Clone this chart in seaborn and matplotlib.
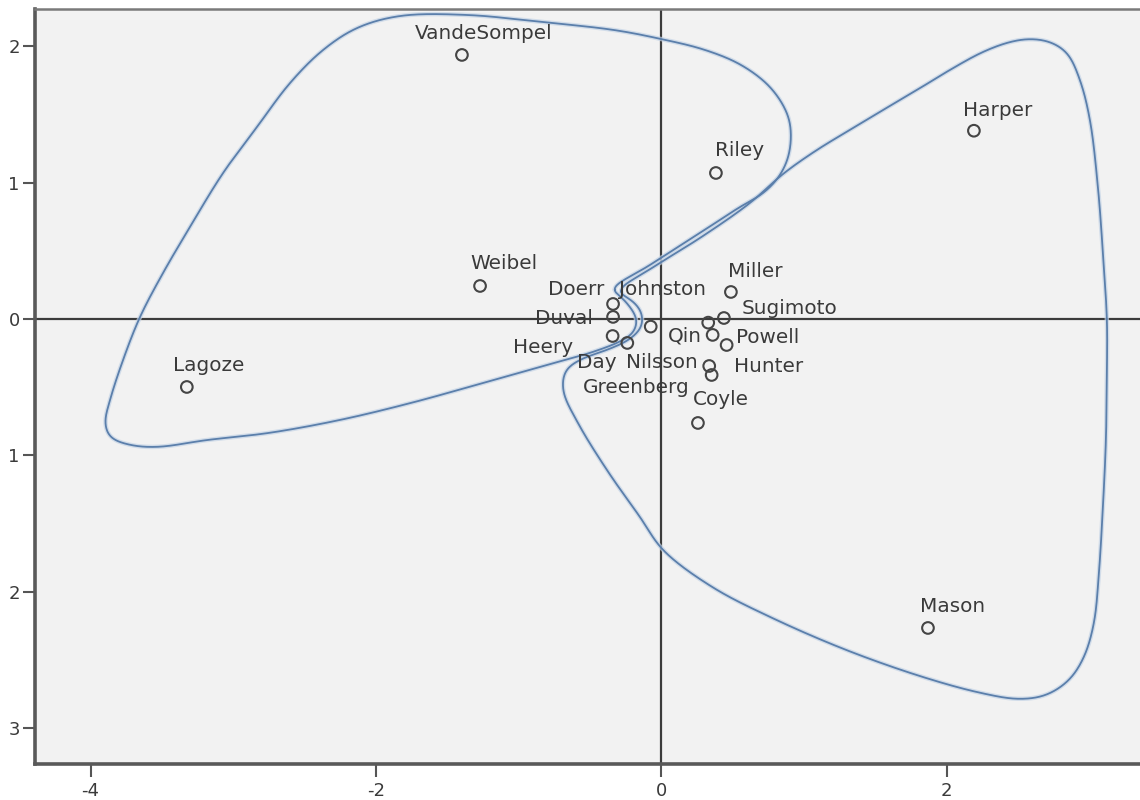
import numpy as np
import pandas as pd
import matplotlib
matplotlib.use("Agg")
import matplotlib.pyplot as plt
import seaborn as sns

# Two-dimensional positions of each author
names = ["VandeSompel", "Harper", "Riley", "Weibel", "Lagoze", "Mason", "Coyle",
         "Miller", "Sugimoto", "Doerr", "Duval", "Heery", "Day", "Johnston",
         "Qin", "Nilsson", "Powell", "Hunter", "Greenberg"]
dim1 = [-1.397, 2.191, 0.383, -1.270, -3.325, 1.869, 0.257,
        0.488, 0.439, -0.338, -0.338, -0.341, -0.238, -0.074,
        0.329, 0.360, 0.458, 0.336, 0.353]
dim2 = [1.937, 1.381, 1.071, 0.242, -0.499, -2.267, -0.763,
        0.198, 0.007, 0.110, 0.015, -0.125, -0.176, -0.056,
        -0.027, -0.117, -0.191, -0.345, -0.411]

# Outline of the left-hand group (closed)
left_group_x = [-0.345, -0.079, 0.271, 0.552, 0.706, 0.818, 0.888, 0.909, 0.881,
                0.762, 0.559, 0.306, -0.002, -0.331, -0.843, -1.355, -1.831,
                -2.132, -2.371, -2.602, -2.833, -3.071, -3.303, -3.492, -3.653,
                -3.772, -3.863, -3.898, -3.863, -3.723, -3.534, -3.183, -2.749,
                -2.252, -1.754, -1.250, -0.752, -0.500, -0.297, -0.198, -0.170,
                -0.219, -0.289]
left_group_y = [0.213, 0.396, 0.631, 0.822, 0.917, 1.034, 1.181, 1.365, 1.511,
                1.702, 1.864, 1.974, 2.054, 2.120, 2.179, 2.230, 2.223,
                2.135, 1.973, 1.731, 1.409, 1.071, 0.675, 0.337, 0.015,
                -0.301, -0.594, -0.763, -0.866, -0.924, -0.939, -0.888, -0.836,
                -0.741, -0.616, -0.470, -0.323, -0.249, -0.169, -0.103, -0.007,
                0.088, 0.169]

# Outline of the right-hand group (closed)
right_group_x = [-0.303, -0.065, 0.271, 0.622, 0.853, 1.091, 1.322, 1.554, 1.792,
                 2.023, 2.254, 2.443, 2.583, 2.724, 2.843, 2.934, 3.004, 3.060,
                 3.095, 3.123, 3.123, 3.116, 3.095, 3.067, 3.032, 2.962, 2.857,
                 2.696, 2.507, 2.241, 1.834, 1.295, 0.762, 0.356, 0.012, -0.149,
                 -0.367, -0.584, -0.689, -0.668, -0.556, -0.381, -0.219, -0.135,
                 -0.142, -0.219]
right_group_y = [0.198, 0.374, 0.594, 0.851, 1.064, 1.240, 1.387, 1.533, 1.680,
                 1.827, 1.959, 2.032, 2.054, 2.032, 1.952, 1.753, 1.460, 0.968,
                 0.484, -0.007, -0.396, -0.888, -1.379, -1.864, -2.230, -2.480,
                 -2.649, -2.759, -2.788, -2.744, -2.627, -2.428, -2.186, -1.966,
                 -1.695, -1.453, -1.130, -0.763, -0.521, -0.374, -0.293, -0.227,
                 -0.147, -0.051, 0.059, 0.147]

x_ticks = [-4, -2, 0, 2]
x_tick_labels = ["-4", "-2", "0", "2"]
y_ticks = [2, 1, 0, -1, -2, -3]
y_tick_labels = ["2", "1", "0", "1", "2", "3"]

# Label placement (pixel offsets of the text baseline-left from each marker)
label_offsets = {
    "VandeSompel": (-47, 16), "Harper": (-11, 15), "Riley": (-1, 17),
    "Weibel": (-10, 17), "Lagoze": (-14, 16), "Mason": (-8, 16),
    "Coyle": (-5, 18), "Miller": (-3, 15), "Sugimoto": (18, 4),
    "Doerr": (-65, 9), "Duval": (-78, -7), "Heery": (-100, -17),
    "Day": (-50, -25), "Johnston": (-32, 32), "Qin": (-40, -19),
    "Nilsson": (-87, -33), "Powell": (9, 2), "Hunter": (25, -6),
    "Greenberg": (-129, -18),
}


def closed_catmull_rom(xs, ys, samples=24, alpha=0.5):
    """Smooth closed outline through the given vertices (centripetal Catmull-Rom)."""
    P = np.column_stack([xs, ys]).astype(float)
    n = len(P)
    pieces = []
    for i in range(n):
        p0, p1, p2, p3 = P[(i - 1) % n], P[i], P[(i + 1) % n], P[(i + 2) % n]
        t0 = 0.0
        t1 = t0 + np.linalg.norm(p1 - p0) ** alpha
        t2 = t1 + np.linalg.norm(p2 - p1) ** alpha
        t3 = t2 + np.linalg.norm(p3 - p2) ** alpha
        t = np.linspace(t1, t2, samples, endpoint=False)[:, None]
        a1 = (t1 - t) / (t1 - t0) * p0 + (t - t0) / (t1 - t0) * p1
        a2 = (t2 - t) / (t2 - t1) * p1 + (t - t1) / (t2 - t1) * p2
        a3 = (t3 - t) / (t3 - t2) * p2 + (t - t2) / (t3 - t2) * p3
        b1 = (t2 - t) / (t2 - t0) * a1 + (t - t0) / (t2 - t0) * a2
        b2 = (t3 - t) / (t3 - t1) * a2 + (t - t1) / (t3 - t1) * a3
        pieces.append((t2 - t) / (t2 - t1) * b1 + (t - t1) / (t2 - t1) * b2)
    return np.vstack(pieces)


def soften_closed(path, n_out=2000, sigma=6.0):
    """Resample a closed path evenly by arc length and ease out small corners."""
    closed = np.vstack([path, path[:1]])
    seg = np.linalg.norm(np.diff(closed, axis=0), axis=1)
    s = np.concatenate([[0], np.cumsum(seg)])
    u = np.linspace(0, s[-1], n_out, endpoint=False)
    pts = np.column_stack([np.interp(u, s, closed[:, 0]),
                           np.interp(u, s, closed[:, 1])])
    k = np.arange(-int(4 * sigma), int(4 * sigma) + 1)
    w = np.exp(-0.5 * (k / sigma) ** 2)
    w /= w.sum()
    out = np.zeros_like(pts)
    for shift, wi in zip(k, w):
        out += wi * np.roll(pts, shift, axis=0)
    out = np.vstack([out, out[:1]])
    return out[:, 0], out[:, 1]


df = pd.DataFrame({"name": names, "dim1": dim1, "dim2": dim2})

sns.set_theme(style="white", rc={"axes.facecolor": "#f2f2f2",
                                 "figure.facecolor": "white"})
plt.rcParams["font.family"] = ["DejaVu Sans"]

fig = plt.figure(figsize=(11.4, 8.0), dpi=100)
ax = fig.add_axes([35 / 1140, 36 / 800, 1 - 35 / 1140, (791 - 36) / 800])

ax.set_xlim(-4.389, 3.355)
ax.set_ylim(-3.265, 2.274)

# Reference lines through the origin
ax.axhline(0, color="#3c3c3c", lw=1.6, zorder=1)
ax.axvline(0, color="#3c3c3c", lw=1.6, zorder=1)

# Group outlines
for gx, gy in [(left_group_x, left_group_y), (right_group_x, right_group_y)]:
    sx, sy = soften_closed(closed_catmull_rom(gx, gy))
    ax.plot(sx, sy, color="#c3d3e6", lw=3.2, alpha=0.7, zorder=2,
            solid_capstyle="round")
    ax.plot(sx, sy, color="#5b7fab", lw=1.3, zorder=3, solid_capstyle="round")

# Author markers
sns.scatterplot(data=df, x="dim1", y="dim2", ax=ax, marker="o", s=70,
                facecolors="none", edgecolor="#454545", linewidth=1.5,
                zorder=4, legend=False)

for name, x, y in zip(names, dim1, dim2):
    dx, dy = label_offsets[name]
    ax.annotate(name, (x, y), xytext=(dx, dy), textcoords="offset pixels",
                ha="left", va="baseline", fontsize=14.4, color="#3a3a3a",
                zorder=5)

ax.set_xticks(x_ticks)
ax.set_xticklabels(x_tick_labels)
ax.set_yticks(y_ticks)
ax.set_yticklabels(y_tick_labels)
ax.set_xlabel("")
ax.set_ylabel("")
ax.tick_params(axis="both", direction="out", length=9, width=1.5,
               color="#555555", labelsize=13, labelcolor="#3a3a3a")
ax.tick_params(axis="x", bottom=True, pad=4)
ax.tick_params(axis="y", left=True, pad=2)

for side in ["left", "bottom"]:
    ax.spines[side].set_visible(True)
    ax.spines[side].set_color("#595959")
    ax.spines[side].set_linewidth(2.6)
ax.spines["top"].set_color("#7a7a7a")
ax.spines["top"].set_linewidth(1.8)
ax.spines["right"].set_visible(False)

fig.savefig("out.png", dpi=100)
